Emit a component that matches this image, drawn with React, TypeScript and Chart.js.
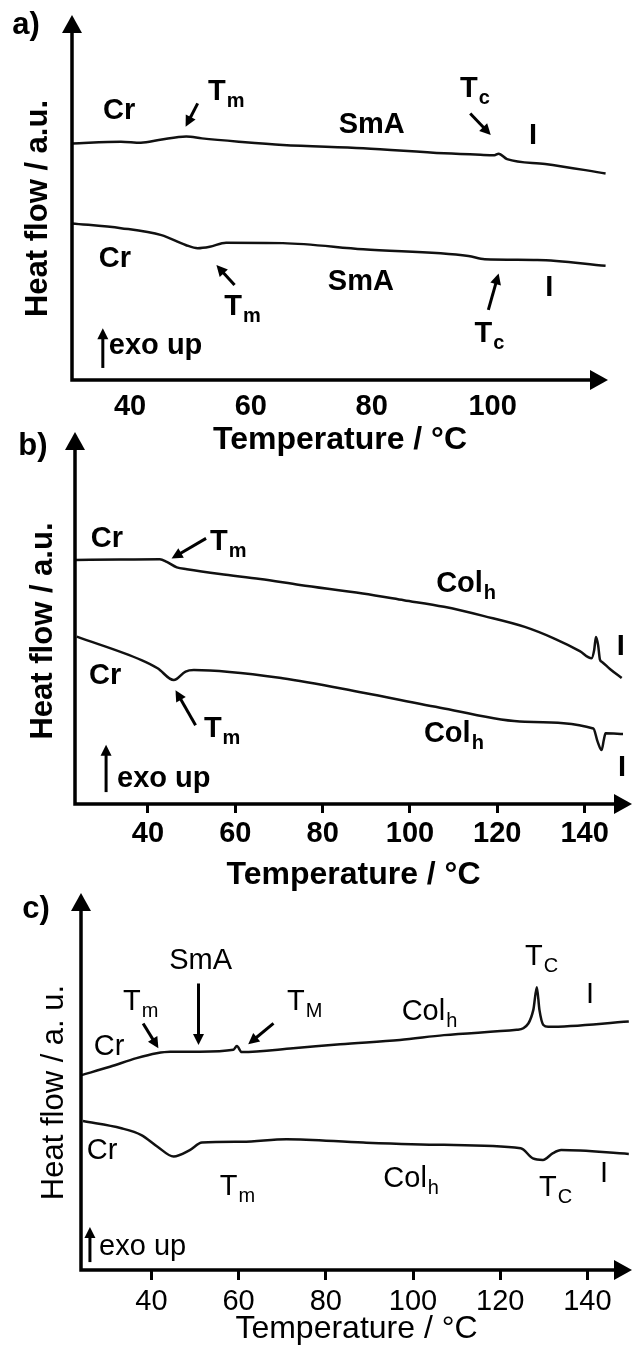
import React, { useEffect, useRef } from 'react';
import { Chart, registerables } from 'chart.js';

Chart.register(...registerables);

const FONT = "'Liberation Sans', Arial, Helvetica, sans-serif";

// ---------------- Panel a ----------------
const A_TICKS = [40, 60, 80, 100];
const A_UPPER_T = [30.5, 38.5, 41.8, 45.0, 49.3, 51.9, 58.0, 65.3, 78.6, 92.0, 98.0, 100.3, 101.0, 102.4, 108.7, 118.7];
const A_UPPER_HF = [64.8, 65.3, 65.0, 65.8, 66.7, 66.2, 65.3, 64.4, 63.5, 62.1, 61.7, 61.6, 62.0, 60.5, 59.2, 56.6];
const A_LOWER_T = [30.4, 38.5, 45.2, 49.2, 51.2, 53.2, 55.9, 65.3, 78.6, 96.0, 98.7, 107.4, 118.7];
const A_LOWER_HF = [42.9, 41.6, 39.7, 37.0, 36.1, 36.5, 37.6, 37.5, 35.8, 34.0, 33.1, 32.9, 31.3];
const A_LABELS = [
  { text: 'Cr', x: 38.2, y: 73.7 },
  { text: 'T', sub: 'm', x: 52.9, y: 76.7 },
  { text: 'SmA', x: 80.0, y: 69.9 },
  { text: 'T', sub: 'c', x: 94.6, y: 77.5 },
  { text: 'I', x: 106.7, y: 66.8 },
  { text: 'Cr', x: 37.5, y: 33.2 },
  { text: 'T', sub: 'm', x: 55.6, y: 17.8 },
  { text: 'SmA', x: 78.2, y: 26.8 },
  { text: 'T', sub: 'c', x: 97.0, y: 10.4 },
  { text: 'I', x: 109.4, y: 25.3 },
  { text: 'exo up', x: 36.5, y: 7.1, left: true },
];
const A_ARROWS = [
  [51.2, 75.8, 49.2, 69.4],
  [96.3, 73.0, 99.7, 67.1],
  [57.3, 26.0, 54.3, 31.5],
  [99.3, 19.2, 101.0, 29.2],
  [35.5, 3.3, 35.5, 14.2],
];

// ---------------- Panel b ----------------
const B_TICKS = [40, 60, 80, 100, 120, 140];
const B_UPPER_T = [23.3, 33.6, 42.7, 44.3, 46.6, 48.9, 56.5, 65.7, 74.8, 89.2, 98.6, 107.8, 117.0, 126.3, 133.2, 138.9, 141.6, 142.2, 142.6, 143.1, 143.5, 144.0, 145.8, 148.5];
const B_UPPER_HF = [65.6, 65.7, 65.8, 65.1, 63.6, 63.1, 61.8, 60.5, 58.9, 56.6, 54.8, 53.0, 50.5, 47.6, 44.4, 41.1, 39.2, 41.4, 44.9, 42.7, 38.9, 38.2, 36.3, 33.9];
const B_LOWER_T = [23.7, 38.5, 42.2, 45.9, 48.6, 50.5, 70.8, 89.3, 107.8, 126.3, 142.0, 143.0, 143.9, 144.4, 144.8, 148.8];
const B_LOWER_HF = [45.0, 38.7, 36.5, 33.3, 35.6, 36.0, 33.8, 29.9, 25.7, 22.1, 20.3, 16.7, 14.5, 17.2, 19.0, 18.8];
const B_LABELS = [
  { text: 'Cr', x: 30.6, y: 71.2 },
  { text: 'T', sub: 'm', x: 54.2, y: 68.3 },
  { text: 'Col', sub: 'h', x: 106.0, y: 57.0 },
  { text: 'I', x: 148.3, y: 42.2 },
  { text: 'Cr', x: 30.2, y: 34.4 },
  { text: 'T', sub: 'm', x: 52.8, y: 18.0 },
  { text: 'Col', sub: 'h', x: 103.2, y: 16.7 },
  { text: 'I', x: 148.6, y: 9.7 },
  { text: 'exo up', x: 32.9, y: 4.6, left: true },
];
const B_ARROWS = [
  [53.3, 71.4, 45.4, 66.0],
  [50.9, 21.2, 46.3, 30.6],
  [30.4, 3.2, 30.4, 15.9],
];

// ---------------- Panel c ----------------
const C_TICKS = [40, 60, 80, 100, 120, 140];
const C_UPPER_T = [24.0, 30.5, 36.6, 41.2, 44.3, 51.1, 58.8, 59.6, 60.7, 72.5, 83.3, 97.0, 107.1, 123.8, 125.3, 127.6, 128.4, 129.0, 129.9, 131.0, 149.5];
const C_UPPER_HF = [51.7, 53.9, 56.2, 57.5, 57.9, 57.9, 58.4, 59.4, 57.8, 58.8, 59.9, 61.0, 62.3, 63.7, 64.1, 69.0, 75.0, 69.0, 65.0, 64.5, 65.9];
const C_LOWER_T = [24.3, 33.1, 37.7, 41.4, 45.1, 48.8, 51.6, 60.8, 71.0, 88.6, 107.1, 124.7, 127.5, 129.8, 132.1, 134.0, 149.5];
const C_LOWER_HF = [39.5, 37.6, 35.8, 32.7, 30.1, 31.8, 33.8, 34.0, 34.7, 33.8, 33.2, 32.3, 29.6, 29.2, 31.0, 31.8, 30.8];
const C_LABELS = [
  { text: 'T', sub: 'm', x: 33.5, y: 69.0 },
  { text: 'Cr', x: 30.3, y: 59.2 },
  { text: 'SmA', x: 51.3, y: 82.0 },
  { text: 'T', sub: 'M', x: 71.1, y: 69.0 },
  { text: 'Col', sub: 'h', x: 97.4, y: 66.3 },
  { text: 'T', sub: 'C', x: 125.7, y: 80.9 },
  { text: 'I', x: 140.6, y: 72.9 },
  { text: 'Cr', x: 28.7, y: 31.6 },
  { text: 'T', sub: 'm', x: 55.7, y: 19.9 },
  { text: 'Col', sub: 'h', x: 93.2, y: 22.1 },
  { text: 'T', sub: 'C', x: 128.9, y: 19.5 },
  { text: 'I', x: 143.8, y: 25.5 },
  { text: 'exo up', x: 28.0, y: 4.0, left: true },
];
const C_ARROWS = [
  [38.1, 65.4, 41.6, 58.8],
  [50.8, 76.0, 50.8, 59.7],
  [68.0, 65.4, 62.2, 59.9],
  [25.9, 2.1, 25.9, 11.4],
];

type Lbl = { text: string; sub?: string; x: number; y: number; left?: boolean };

interface PanelSpec {
  key: string;
  tag: string;
  top: number;
  height: number;
  padTop: number;
  padRight: number;
  yWidth: number;
  xHeight: number;
  xMin: number;
  xMax: number;
  ticks: number[];
  tickLen: number;
  tickPad: number;
  weight: string;
  yTitle: string;
  yTitleDx: number;
  yTitleDy: number;
  tagX: number;
  tagY: number;
  series: { t: number[]; hf: number[] }[];
  labels: Lbl[];
  arrows: number[][];
}

const PANELS: PanelSpec[] = [
  {
    key: 'a', tag: 'a)', top: 0, height: 456, padTop: 15, padRight: 25, yWidth: 72, xHeight: 76,
    xMin: 30.4, xMax: 119.1, ticks: A_TICKS, tickLen: 0, tickPad: 10, weight: 'bold',
    yTitle: 'Heat flow / a.u.', yTitleDx: -34, yTitleDy: 11, tagX: 26, tagY: 25,
    series: [{ t: A_UPPER_T, hf: A_UPPER_HF }, { t: A_LOWER_T, hf: A_LOWER_HF }],
    labels: A_LABELS, arrows: A_ARROWS,
  },
  {
    key: 'b', tag: 'b)', top: 420, height: 471, padTop: 12, padRight: 1, yWidth: 75, xHeight: 87,
    xMin: 23.28, xMax: 150.86, ticks: B_TICKS, tickLen: 9, tickPad: 4, weight: 'bold',
    yTitle: 'Heat flow / a.u.', yTitleDx: -32, yTitleDy: 13, tagX: 33, tagY: 26,
    series: [{ t: B_UPPER_T, hf: B_UPPER_HF }, { t: B_LOWER_T, hf: B_LOWER_HF }],
    labels: B_LABELS, arrows: B_ARROWS,
  },
  {
    key: 'c', tag: 'c)', top: 879, height: 466, padTop: 14, padRight: 1, yWidth: 81, xHeight: 75,
    xMin: 23.85, xMax: 150.23, ticks: C_TICKS, tickLen: 10, tickPad: 5, weight: 'normal',
    yTitle: 'Heat flow / a. u.', yTitleDx: -27, yTitleDy: 11, tagX: 36, tagY: 30,
    series: [{ t: C_UPPER_T, hf: C_UPPER_HF }, { t: C_LOWER_T, hf: C_LOWER_HF }],
    labels: C_LABELS, arrows: C_ARROWS,
  },
];

function drawArrow(ctx: CanvasRenderingContext2D, x1: number, y1: number, x2: number, y2: number, lw: number, hl: number, hw: number) {
  const dx = x2 - x1;
  const dy = y2 - y1;
  const len = Math.hypot(dx, dy) || 1;
  const ux = dx / len;
  const uy = dy / len;
  const bx = x2 - ux * hl;
  const by = y2 - uy * hl;
  ctx.lineWidth = lw;
  ctx.lineCap = 'butt';
  ctx.beginPath();
  ctx.moveTo(x1, y1);
  ctx.lineTo(bx + ux * 2, by + uy * 2);
  ctx.stroke();
  ctx.beginPath();
  ctx.moveTo(x2, y2);
  ctx.lineTo(bx - uy * hw, by + ux * hw);
  ctx.lineTo(bx + uy * hw, by - ux * hw);
  ctx.closePath();
  ctx.fill();
}

function decor(p: PanelSpec) {
  return {
    id: 'dscDecor' + p.key,
    afterDraw(chart: any) {
      const { ctx, chartArea: ca, scales } = chart;
      const xs = scales.x;
      const ys = scales.y;
      ctx.save();
      ctx.fillStyle = '#000';
      ctx.strokeStyle = '#000';
      const AH = 18;
      const AW = 10;
      // axes
      ctx.lineWidth = 3.5;
      ctx.lineCap = 'butt';
      ctx.beginPath();
      ctx.moveTo(ca.left, ca.bottom + 1.75);
      ctx.lineTo(ca.left, ca.top + AH - 2);
      ctx.moveTo(ca.left - 1.75, ca.bottom);
      ctx.lineTo(ca.right - AH + 2, ca.bottom);
      ctx.stroke();
      ctx.beginPath();
      ctx.moveTo(ca.left, ca.top);
      ctx.lineTo(ca.left - AW, ca.top + AH);
      ctx.lineTo(ca.left + AW, ca.top + AH);
      ctx.closePath();
      ctx.fill();
      ctx.beginPath();
      ctx.moveTo(ca.right, ca.bottom);
      ctx.lineTo(ca.right - AH, ca.bottom - AW);
      ctx.lineTo(ca.right - AH, ca.bottom + AW);
      ctx.closePath();
      ctx.fill();

      // y title
      ctx.save();
      ctx.translate(ca.left + p.yTitleDx, (ca.top + ca.bottom) / 2 + p.yTitleDy);
      ctx.rotate(-Math.PI / 2);
      ctx.textAlign = 'center';
      ctx.textBaseline = 'middle';
      ctx.font = `${p.weight} 31px ${FONT}`;
      ctx.fillText(p.yTitle, 0, 0);
      ctx.restore();

      // panel tag
      ctx.textAlign = 'center';
      ctx.textBaseline = 'middle';
      ctx.font = `bold 31px ${FONT}`;
      ctx.fillText(p.tag, p.tagX, p.tagY);

      // labels
      for (const l of p.labels) {
        const px = xs.getPixelForValue(l.x);
        const py = ys.getPixelForValue(l.y);
        ctx.font = `${p.weight} 29px ${FONT}`;
        if (l.sub) {
          ctx.textAlign = 'left';
          ctx.textBaseline = 'alphabetic';
          ctx.fillText(l.text, px, py);
          const w = ctx.measureText(l.text).width;
          ctx.font = `${p.weight} 20px ${FONT}`;
          ctx.fillText(l.sub, px + w + 1, py + 7);
        } else if (l.left) {
          ctx.textAlign = 'left';
          ctx.textBaseline = 'alphabetic';
          ctx.fillText(l.text, px, py);
        } else {
          ctx.textAlign = 'center';
          ctx.textBaseline = 'middle';
          ctx.fillText(l.text, px, py);
        }
      }

      // arrows
      for (const a of p.arrows) {
        drawArrow(
          ctx,
          xs.getPixelForValue(a[0]), ys.getPixelForValue(a[1]),
          xs.getPixelForValue(a[2]), ys.getPixelForValue(a[3]),
          3, 11, 5.5,
        );
      }
      ctx.restore();
    },
  };
}

function buildConfig(p: PanelSpec): any {
  const datasets = p.series.map((s) => ({
    data: s.t.map((t, i) => ({ x: t, y: s.hf[i] })),
    borderColor: '#111',
    borderWidth: 2.5,
    pointRadius: 0,
    fill: false,
    cubicInterpolationMode: 'monotone',
  }));
  return {
    type: 'line',
    data: { datasets },
    options: {
      animation: false,
      responsive: false,
      devicePixelRatio: 1,
      events: [],
      layout: { padding: { left: 0, right: p.padRight, top: p.padTop, bottom: 0 } },
      plugins: { legend: { display: false }, tooltip: { enabled: false } },
      scales: {
        x: {
          type: 'linear',
          min: p.xMin,
          max: p.xMax,
          afterBuildTicks: (s: any) => {
            s.ticks = p.ticks.map((v) => ({ value: v }));
          },
          afterFit: (s: any) => {
            s.height = p.xHeight;
          },
          grid: {
            display: p.tickLen > 0,
            drawOnChartArea: false,
            drawTicks: true,
            tickLength: p.tickLen,
            color: '#000',
            lineWidth: 3,
          },
          border: { display: false },
          ticks: {
            color: '#000',
            font: { family: FONT, size: 29, weight: p.weight },
            padding: p.tickPad,
            autoSkip: false,
            maxRotation: 0,
            minRotation: 0,
          },
          title: {
            display: true,
            text: 'Temperature / °C',
            color: '#000',
            font: { family: FONT, size: 32, weight: p.weight, lineHeight: 1 },
            padding: 0,
          },
        },
        y: {
          type: 'linear',
          min: 0,
          max: 100,
          afterFit: (s: any) => {
            s.width = p.yWidth;
          },
          ticks: { display: false },
          grid: { display: false },
          border: { display: false },
        },
      },
    },
    plugins: [decor(p)],
  };
}

function Panel({ spec }: { spec: PanelSpec }) {
  const ref = useRef<HTMLCanvasElement>(null);
  useEffect(() => {
    if (!ref.current) return;
    const chart = new Chart(ref.current, buildConfig(spec));
    return () => chart.destroy();
  }, [spec]);
  return (
    <canvas
      ref={ref}
      width={633}
      height={spec.height}
      style={{ position: 'absolute', left: 0, top: spec.top, width: 633, height: spec.height, display: 'block' }}
    />
  );
}

export default function App() {
  return (
    <div style={{ position: 'absolute', left: 0, top: 0, width: 633, height: 1345, background: '#fff', overflow: 'hidden' }}>
      {PANELS.map((p) => (
        <Panel key={p.key} spec={p} />
      ))}
    </div>
  );
}
